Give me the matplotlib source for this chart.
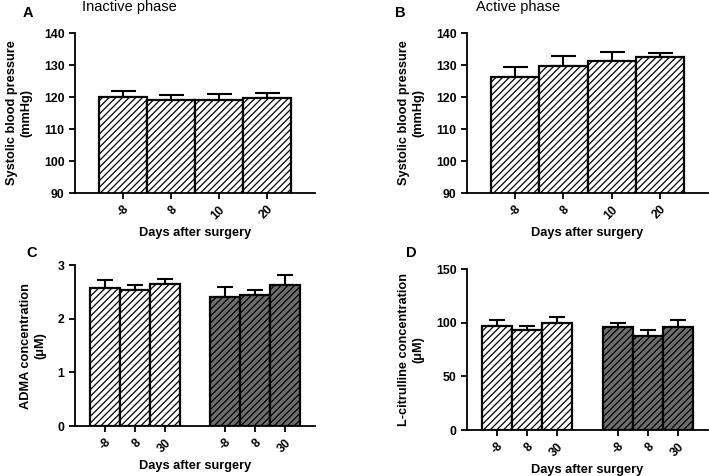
import matplotlib
matplotlib.use("Agg")
import matplotlib.pyplot as plt
import numpy as np

plt.rcParams['font.family'] = ['Liberation Sans', 'DejaVu Sans']
plt.rcParams['hatch.linewidth'] = 0.9

# data
sbp_days = ['-8', '8', '10', '20']
sbp_inactive = [120.1, 119.1, 119.1, 119.8]
sbp_inactive_err = [1.7, 1.6, 1.8, 1.4]
sbp_active = [126.3, 129.7, 131.4, 132.4]
sbp_active_err = [3.2, 3.1, 2.6, 1.5]

conc_days = ['-8', '8', '30']
adma_light = [2.57, 2.53, 2.65]
adma_light_err = [0.15, 0.10, 0.09]
adma_dark = [2.41, 2.44, 2.64]
adma_dark_err = [0.18, 0.09, 0.17]

citr_light = [97.1, 93.3, 100.2]
citr_light_err = [5.3, 4.1, 5.3]
citr_dark = [96.1, 87.7, 96.4]
citr_dark_err = [3.5, 5.6, 6.3]

fig = plt.figure(figsize=(7.09, 4.76), dpi=100)

axA = fig.add_axes([0.1058, 0.5945, 0.338, 0.336])
axB = fig.add_axes([0.6587, 0.5945, 0.340, 0.336])
axC = fig.add_axes([0.1058, 0.105, 0.338, 0.3376])
axD = fig.add_axes([0.6587, 0.0966, 0.340, 0.3376])

EDGE = 1.6
FS = 9.2


def style(ax):
    for s in ['top', 'right']:
        ax.spines[s].set_visible(False)
    for s in ['left', 'bottom']:
        ax.spines[s].set_linewidth(1.3)
    ax.tick_params(axis='both', direction='out', width=1.3, length=4,
                   labelsize=8.8)
    for lab in ax.get_yticklabels():
        lab.set_fontweight('bold')
    for lab in ax.get_xticklabels():
        lab.set_fontweight('bold')
        lab.set_rotation(45)
        lab.set_ha('right')
        lab.set_va('top')
        lab.set_rotation_mode('anchor')
    ax.set_xlabel('Days after surgery', fontsize=FS, fontweight='bold',
                  labelpad=4)


def bars(ax, x, vals, errs, color, cap):
    ax.bar(x, vals, width=1.0, color=color, edgecolor='black',
           linewidth=EDGE, hatch='/////', zorder=2)
    ax.errorbar(x, vals, yerr=[np.zeros(len(errs)), errs], fmt='none',
                ecolor='black', elinewidth=1.5, capsize=cap, capthick=1.5,
                zorder=1)


# A and B: systolic blood pressure
for ax, vals, errs in [(axA, sbp_inactive, sbp_inactive_err),
                       (axB, sbp_active, sbp_active_err)]:
    x = np.arange(len(sbp_days))
    bars(ax, x, vals, errs, 'white', 9)
    ax.set_ylim(90, 140)
    ax.set_yticks([90, 100, 110, 120, 130, 140])
    ax.set_xlim(-1, 4)
    ax.set_xticks(x)
    ax.set_xticklabels(sbp_days)
    ax.set_ylabel('Systolic blood pressure\n(mmHg)', fontsize=FS,
                  fontweight='bold', labelpad=8, linespacing=1.3)
    style(ax)

fig.text(0.116, 0.985, 'Inactive phase', fontsize=10.5, ha='left', va='center')
fig.text(0.672, 0.985, 'Active phase', fontsize=10.5, ha='left', va='center')
fig.text(0.039, 0.973, 'A', fontsize=10.5, fontweight='bold', ha='center', va='center')
fig.text(0.565, 0.973, 'B', fontsize=10.5, fontweight='bold', ha='center', va='center')

# C and D: concentrations
xl = np.arange(3)
xd = np.arange(3) + 4
for ax, light, light_err, dark, dark_err, ymax, yt, ylab in [
        (axC, adma_light, adma_light_err, adma_dark, adma_dark_err, 3,
         [0, 1, 2, 3], 'ADMA concentration\n(\u03bcM)'),
        (axD, citr_light, citr_light_err, citr_dark, citr_dark_err, 150,
         [0, 50, 100, 150], 'L-citrulline concentration\n(\u03bcM)')]:
    bars(ax, xl, light, light_err, 'white', 6)
    bars(ax, xd, dark, dark_err, '#6e6e6e', 6)
    ax.set_ylim(0, ymax)
    ax.set_yticks(yt)
    ax.set_xlim(-1, 7)
    ax.set_xticks(np.concatenate([xl, xd]))
    ax.set_xticklabels(conc_days + conc_days)
    ax.set_ylabel(ylab, fontsize=FS, fontweight='bold', labelpad=8,
                  linespacing=1.3)
    style(ax)

fig.text(0.045, 0.468, 'C', fontsize=10.5, fontweight='bold', ha='center', va='center')
fig.text(0.580, 0.468, 'D', fontsize=10.5, fontweight='bold', ha='center', va='center')

fig.savefig('out.png', dpi=100)
